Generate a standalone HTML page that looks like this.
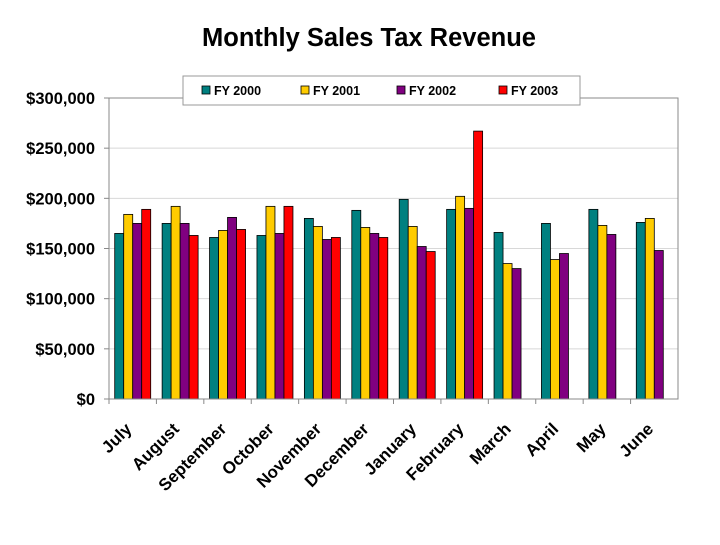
<!DOCTYPE html>
<html><head><meta charset="utf-8"><style>
body{margin:0;background:#fff;font-family:"Liberation Sans",Arial,sans-serif}
</style></head><body>
<svg id="c" width="720" height="540" xmlns="http://www.w3.org/2000/svg">
<text x="369" y="46" text-anchor="middle" font-size="25.5" font-weight="bold">Monthly Sales Tax Revenue</text>
<g id="grid"></g><g id="bars"></g><g id="axes"></g>
<g>
<rect x="183" y="76" width="397" height="29" fill="#fff" stroke="#999"/>
</g>
<g id="leg"></g>
</svg>
<script>
const categories=["July","August","September","October","November","December","January","February","March","April","May","June"];
const fy2000=[165,175,161,163,180,188,199,189,166,175,189,176];
const fy2001=[184,192,168,192,172,171,172,202,135,139,173,180];
const fy2002=[175,175,181,165,159,165,152,190,130,145,164,148];
const fy2003=[189,163,169,192,161,161,147,267,null,null,null,null];
const seriesNames=["FY 2000","FY 2001","FY 2002","FY 2003"];
const yTicks=[0,50,100,150,200,250,300];
const yTickLabels=["$0","$50,000","$100,000","$150,000","$200,000","$250,000","$300,000"];
const colors=["#008080","#FFCC00","#800080","#FF0000"];
const series=[fy2000,fy2001,fy2002,fy2003];
const NS="http://www.w3.org/2000/svg";
const L=109,R=678,T=98,B=399;
const y=v=>B-(v/300)*(B-T);
const cw=(R-L)/categories.length;
function mk(tag,attrs,parent,txt){const e=document.createElementNS(NS,tag);for(const k in attrs)e.setAttribute(k,attrs[k]);if(txt!==undefined)e.textContent=txt;document.getElementById(parent).appendChild(e);return e;}
yTicks.forEach((t,i)=>{
 if(t>0){const g=mk('line',{x1:L,x2:R,y1:y(t),y2:y(t),stroke:'#d8d8d8'},'grid');
 
 }
 const tk=mk('line',{x1:L-5,x2:L,y1:y(t),y2:y(t),stroke:'#888'},'axes');
 
 
 const lb=mk('text',{x:L-14,y:y(t)+6,'text-anchor':'end','font-size':'16.5','font-weight':'bold'},'axes',yTickLabels[i]);
 
 
});
mk('rect',{x:L,y:T,width:R-L,height:B-T,fill:'none',stroke:'#888'},'axes');
const bw=9;
categories.forEach((c,i)=>{
 const x0=L+i*cw+(cw-bw*4)/2;
 series.forEach((s,j)=>{
  if(s[i]==null)return;
  const r=mk('rect',{x:x0+j*bw,y:y(s[i]),width:bw,height:B-y(s[i]),fill:colors[j],stroke:'#000','stroke-width':'0.8'},'bars');
  
  
 });
 const tk=mk('line',{x1:L+i*cw,x2:L+i*cw,y1:B,y2:B+5,stroke:'#888'},'axes');
 
 
 const cx=L+(i+0.5)*cw, cy=B+31;
 const t=mk('text',{x:cx,y:cy,'text-anchor':'end','font-size':'17','font-weight':'bold',transform:`rotate(-45 ${cx} ${cy})`},'axes',c);
 
 
});
const lx=[202,301,397,499];
seriesNames.forEach((n,j)=>{
 const s=mk('rect',{x:lx[j],y:86,width:8,height:8,fill:colors[j],stroke:'#000','stroke-width':'0.8'},'leg');
 
 
 const t=mk('text',{x:lx[j]+12,y:95,'font-size':'12.5','font-weight':'bold'},'leg',n);
 
 
});
</script>
</body></html>
